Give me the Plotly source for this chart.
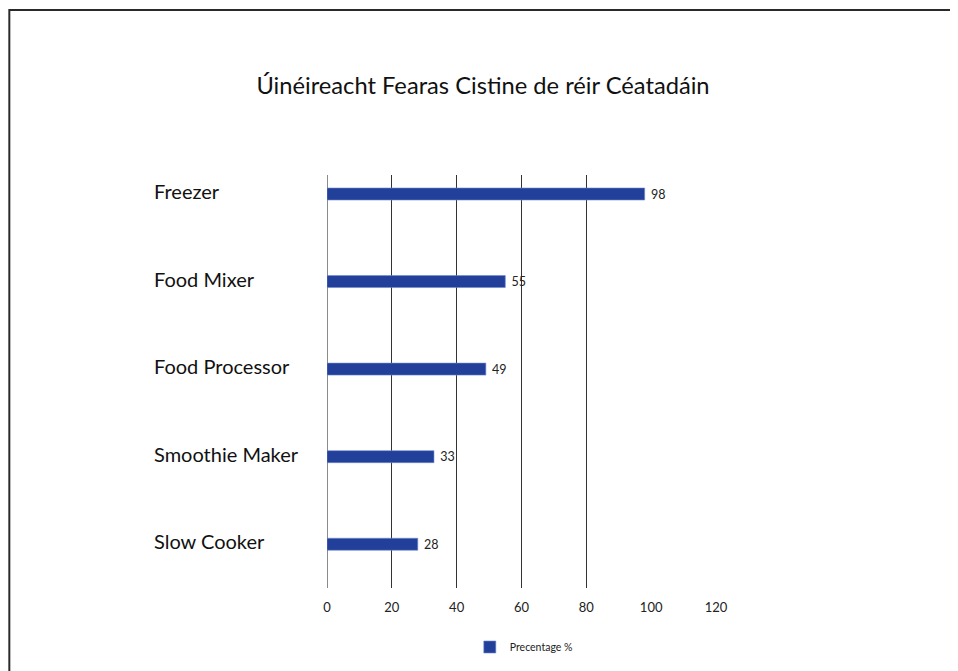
import plotly.graph_objects as go

categories = ["Freezer", "Food Mixer", "Food Processor", "Smoothie Maker", "Slow Cooker"]
values = [98, 55, 49, 33, 28]
series_name = "Precentage %"
tick_vals = [0, 20, 40, 60, 80, 100, 120]
tick_text = ["0", "20", "40", "60", "80", "100", "120"]
grid_vals = [20, 40, 60, 80]
title_text = "Úinéireacht Fearas Cistine de réir Céatadáin"

FONT = "Lato"
W, H = 958, 671
OFF = 8  # page body margin
L = 327 - OFF
T = 175 - OFF
PW = 389.4
R = W - L - PW
B = H - (588 - OFF)

def px(x):
    return (x - OFF - L) / PW
def py(y):
    ph = H - T - B
    return (H - B - (y - OFF)) / ph

fig = go.Figure()
fig.add_trace(go.Bar(
    y=categories, x=values, orientation="h", name=series_name,
    marker=dict(color="#22409A", line=dict(color="#6f88cc", width=0.6)),
    text=values, texttemplate=" %{text}", textposition="outside",
    constraintext="none",
    textfont=dict(family=FONT, size=12.5, color="#222"),
    cliponaxis=False, showlegend=True,
))
fig.add_trace(go.Scatter(x=[0], y=[categories[0]], xaxis="x2", mode="markers",
                         marker=dict(opacity=0), showlegend=False, hoverinfo="skip"))

for c in categories:
    fig.add_annotation(x=px(152), xref="paper", y=c, yref="y", text=c,
                       showarrow=False, xanchor="left", yanchor="middle", yshift=3,
                       font=dict(family=FONT, size=20, color="#111"))

# frame: top and left edges (right/bottom lie outside the picture)
fig.add_shape(type="line", xref="paper", yref="paper",
              x0=px(9), x1=px(990), y0=py(10), y1=py(10),
              line=dict(color="#2a2a2a", width=2), layer="below")
fig.add_shape(type="line", xref="paper", yref="paper",
              x0=px(9), x1=px(9), y0=py(9), y1=py(700),
              line=dict(color="#2a2a2a", width=2), layer="below")

fig.update_layout(
    width=W, height=H,
    margin=dict(l=L, r=R, t=T, b=B),
    paper_bgcolor="white", plot_bgcolor="white",
    bargap=0.863,
    title=dict(text=title_text, x=(483 - OFF) / W, xref="container", xanchor="center",
               y=1 - (86 - OFF) / H, yref="container", yanchor="middle",
               font=dict(family=FONT, size=23.7, color="#111")),
    xaxis=dict(range=[0, 120], tickvals=tick_vals, ticktext=tick_text,
               showgrid=False, zeroline=True, zerolinecolor="#8a8a8a", zerolinewidth=1.3,
               showline=False, ticks="", ticklabelstandoff=10,
               tickfont=dict(family=FONT, size=13, color="#222")),
    xaxis2=dict(range=[0, 120], overlaying="x", tickvals=grid_vals, showgrid=True,
                gridcolor="#333", gridwidth=1.3, showticklabels=False, zeroline=False,
                side="bottom"),
    yaxis=dict(categoryorder="array", categoryarray=categories,
               range=[4.5, -0.217], showticklabels=False, showgrid=False,
               zeroline=False, showline=False),
    legend=dict(orientation="h", x=px(524), xanchor="center", y=py(647), yanchor="middle",
                font=dict(family=FONT, size=10.5, color="#222")),
)

fig.write_html("out.html")
